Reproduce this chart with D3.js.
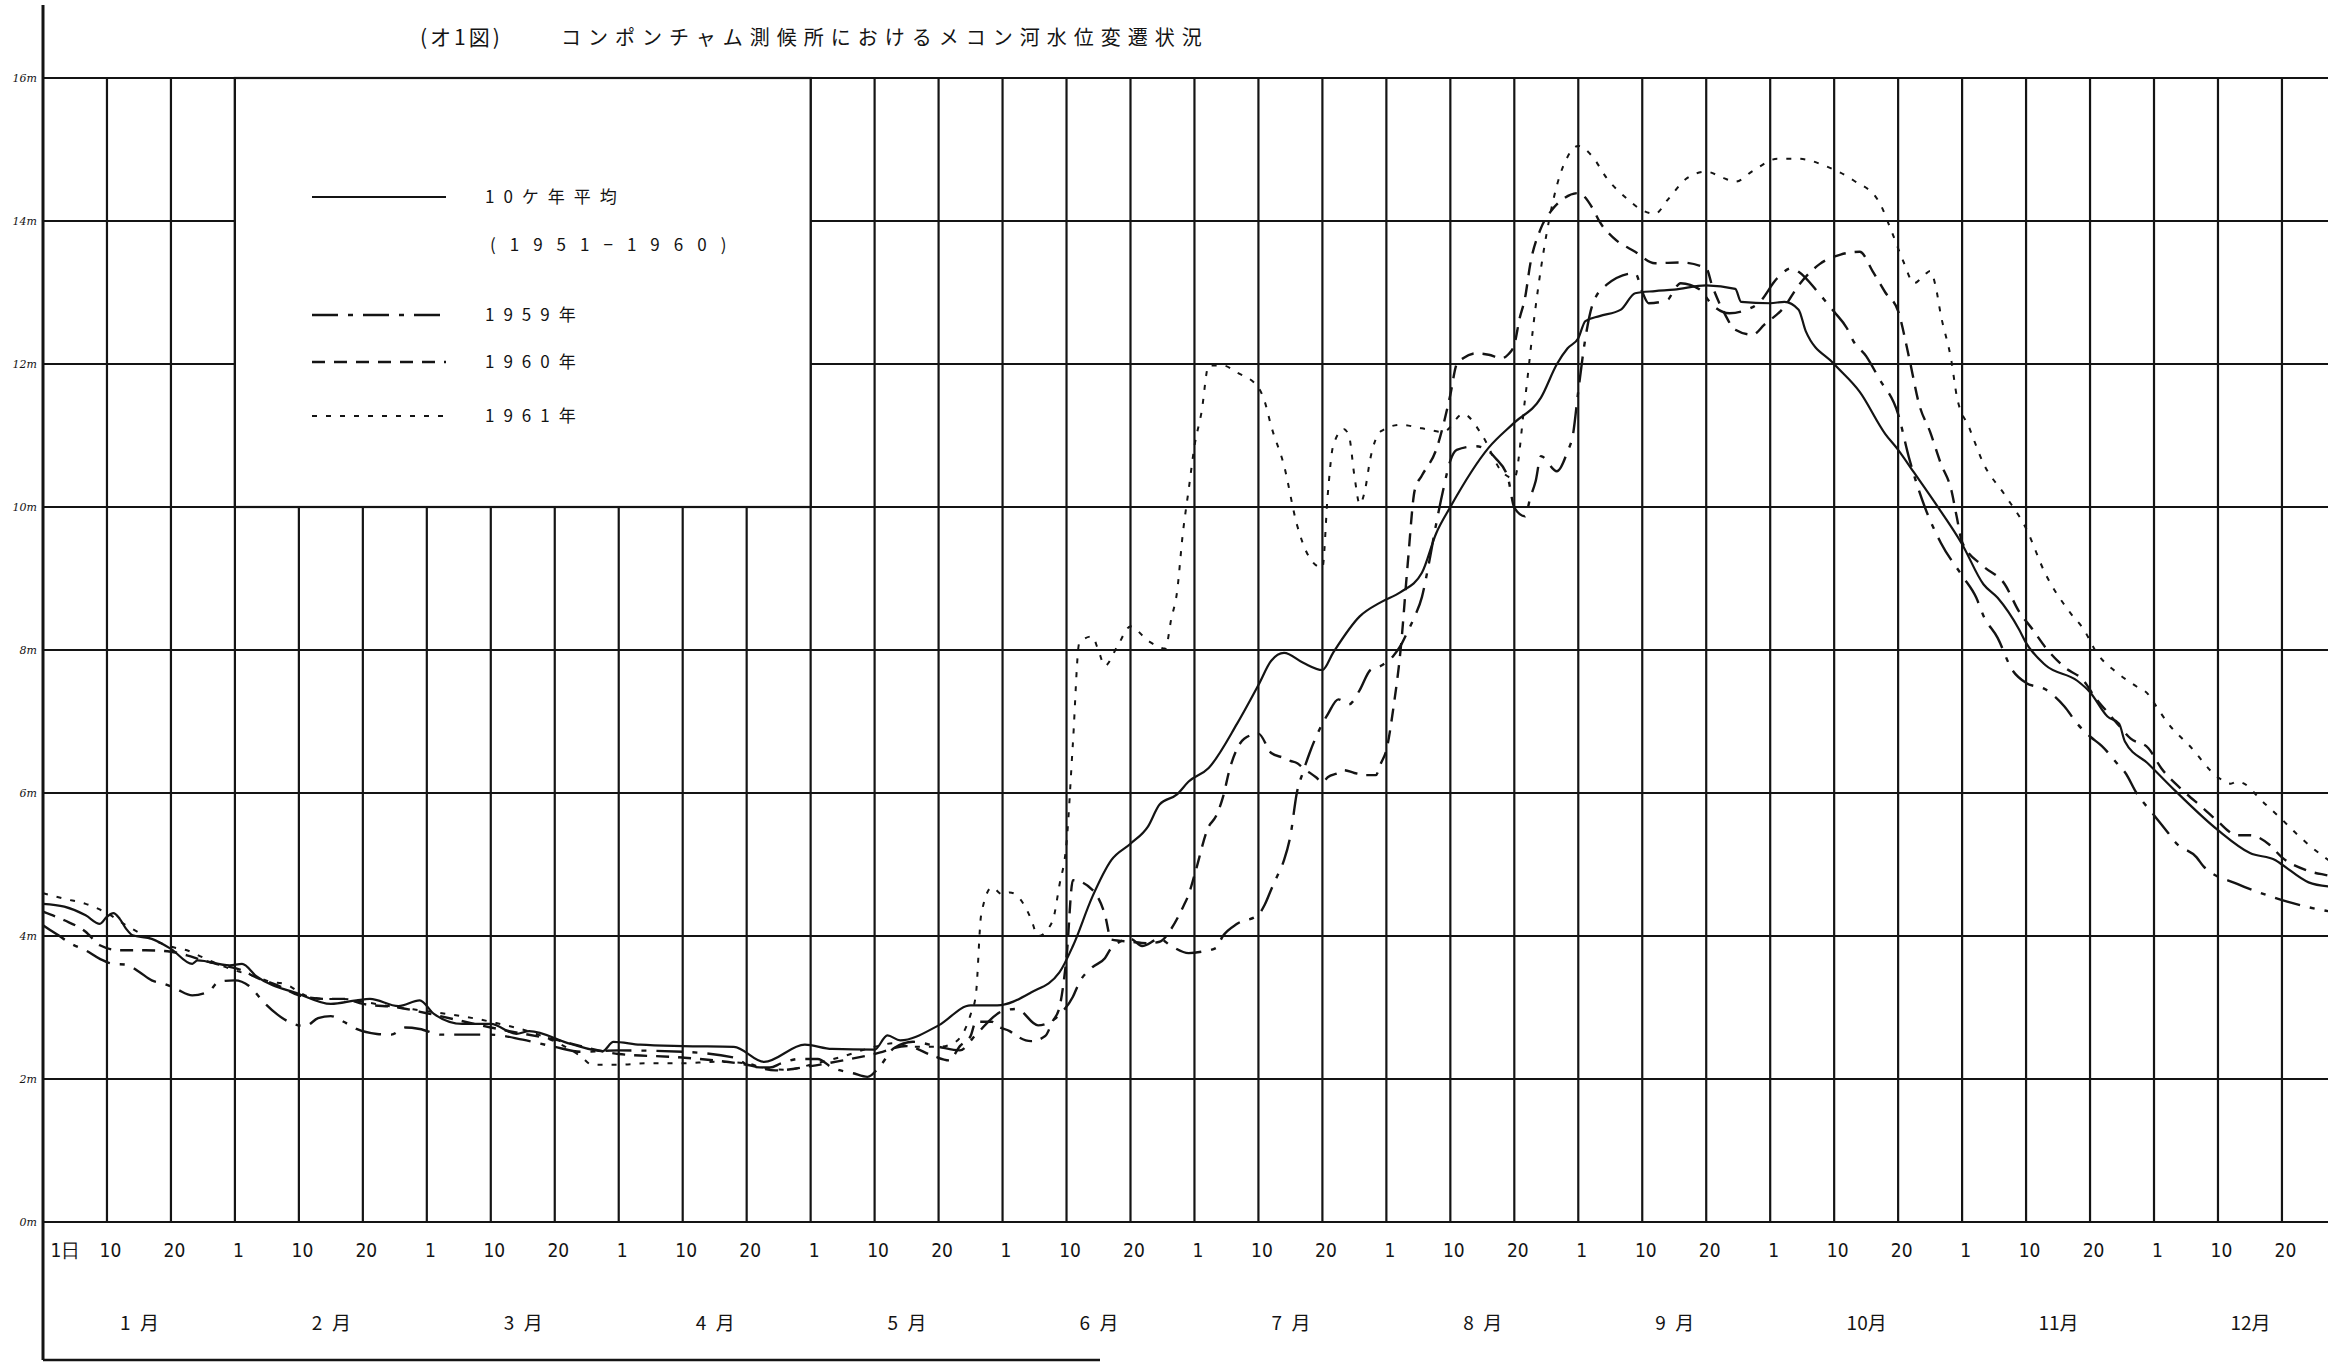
<!DOCTYPE html>
<html>
<head>
<meta charset="utf-8">
<script src="https://cdn.jsdelivr.net/npm/d3@7"></script>
<style>
  html, body { margin: 0; padding: 0; background: #fff; }
  svg { display: block; }
</style>
</head>
<body>
<svg id="chart" width="2328" height="1366"></svg>
<script>
// ---- Water level at Kompong Cham (m), read per date "month-day" ----
const avgDates = ["1-1","1-4","1-7","1-9","1-10","1-11","1-12","1-13","1-14","1-17","1-20","1-24","1-25","1-31","2-2","2-4","2-10","2-15","2-19","2-21","2-25","2-28","3-2","3-6","3-10","3-14","3-16","3-23","3-29","3-31","4-4","4-10","4-18","4-23","4-30","5-4","5-10","5-12","5-14","5-20","5-26","5-31","6-5","6-9","6-11","6-14","6-17","6-20","6-23","6-25","6-28","6-30","7-3","7-7","7-10","7-12","7-14","7-17","7-20","7-22","7-27","7-31","8-3","8-6","8-8","8-10","8-16","8-20","8-25","8-28","8-30","9-1","9-2","9-4","9-7","9-9","9-12","9-15","9-20","9-25","9-26","10-1","10-3","10-5","10-6","10-10","10-14","10-18","10-20","10-23","10-27","11-1","11-4","11-6","11-9","11-10","11-13","11-18","11-20","11-23","11-25","11-26","11-30","12-4","12-10","12-15","12-19","12-20","12-25","12-29"];
const avgLevels = [4.45,4.41,4.29,4.17,4.27,4.32,4.24,4.10,4.01,3.96,3.82,3.61,3.66,3.59,3.61,3.44,3.19,3.05,3.10,3.12,3.02,3.10,2.91,2.77,2.77,2.63,2.67,2.49,2.39,2.52,2.48,2.46,2.45,2.24,2.48,2.42,2.41,2.61,2.54,2.75,3.03,3.03,3.21,3.49,3.86,4.54,5.06,5.29,5.53,5.84,5.98,6.16,6.35,6.97,7.51,7.85,7.96,7.82,7.72,7.96,8.47,8.67,8.81,9.08,9.63,10.0,10.83,11.18,11.53,12.0,12.22,12.36,12.6,12.67,12.76,12.99,13.02,13.04,13.1,13.05,12.87,12.85,12.87,12.76,12.46,12.0,11.61,11.02,10.8,10.48,10.05,9.48,8.92,8.73,8.29,8.1,7.79,7.57,7.41,7.07,6.97,6.72,6.41,6.03,5.48,5.16,5.06,5.0,4.75,4.69];

const y1959Dates = ["1-1","1-3","1-5","1-7","1-9","1-11","1-13","1-15","1-17","1-19","1-21","1-24","1-27","1-29","2-1","2-3","2-5","2-7","2-9","2-11","2-13","2-15","2-17","2-19","2-22","2-24","2-26","2-28","3-3","3-6","3-10","3-15","3-20","3-25","4-1","4-10","4-18","4-21","4-24","4-26","4-29","5-2","5-4","5-7","5-9","5-11","5-13","5-16","5-20","5-24","5-27","6-1","6-3","6-6","6-9","6-11","6-12","6-14","6-16","6-17","6-20","6-22","6-25","6-27","6-30","7-2","7-4","7-5","7-7","7-10","7-11","7-12","7-13","7-14","7-15","7-16","7-17","7-18","7-20","7-21","7-23","7-25","7-27","7-29","7-31","8-2","8-3","8-4","8-5","8-6","8-7","8-8","8-9","8-10","8-11","8-14","8-16","8-17","8-19","8-20","8-22","8-23","8-24","8-25","8-28","8-30","8-31","9-1","9-2","9-3","9-5","9-9","9-10","9-11","9-14","9-15","9-16","9-19","9-21","9-24","9-27","9-29","10-2","10-4","10-5","10-8","10-10","10-12","10-13","10-15","10-17","10-20","10-22","10-25","10-28","11-1","11-3","11-4","11-6","11-8","11-10","11-13","11-16","11-18","11-20","11-22","11-25","11-26","11-28","12-1","12-3","12-4","12-7","12-8","12-13","12-18","12-21","12-27","12-31"];
const y1959Levels = [4.15,4.02,3.89,3.80,3.68,3.61,3.60,3.50,3.38,3.33,3.26,3.17,3.22,3.36,3.38,3.30,3.08,2.90,2.78,2.74,2.85,2.88,2.80,2.70,2.63,2.62,2.72,2.70,2.62,2.62,2.62,2.55,2.45,2.38,2.40,2.38,2.30,2.17,2.16,2.22,2.28,2.28,2.16,2.08,2.03,2.20,2.43,2.52,2.45,2.40,2.62,2.95,2.98,2.75,2.90,3.15,3.35,3.56,3.69,3.83,3.96,3.86,3.96,3.86,3.76,3.78,3.83,4.00,4.17,4.30,4.44,4.65,4.85,5.06,5.40,6.00,6.30,6.56,6.97,7.10,7.31,7.24,7.44,7.72,7.78,7.92,8.06,8.26,8.47,8.74,9.22,9.76,10.24,10.65,10.80,10.85,10.78,10.69,10.41,9.99,9.87,10.13,10.36,10.71,10.50,10.78,11.01,11.62,12.36,12.83,13.11,13.27,13.01,12.85,12.90,13.04,13.13,13.04,12.83,12.71,12.76,12.85,13.20,13.34,13.29,12.97,12.73,12.50,12.32,12.11,11.80,11.30,10.70,10.00,9.50,9.04,8.73,8.48,8.17,7.73,7.54,7.45,7.21,6.97,6.79,6.66,6.38,6.29,6.00,5.69,5.44,5.31,5.10,4.97,4.73,4.56,4.48,4.37,4.32];

const y1960Dates = ["1-1","1-4","1-7","1-9","1-12","1-16","1-20","1-23","1-26","1-29","2-2","2-4","2-7","2-10","2-14","2-17","2-20","2-25","3-1","3-10","3-20","4-1","4-10","4-20","4-25","5-1","5-5","5-10","5-15","5-19","5-22","5-24","5-26","5-27","5-30","5-31","6-2","6-3","6-5","6-7","6-8","6-9","6-10","6-11","6-14","6-16","6-17","6-20","6-23","6-25","6-27","6-29","6-30","7-1","7-3","7-4","7-5","7-6","7-7","7-8","7-10","7-12","7-14","7-15","7-16","7-17","7-19","7-20","7-21","7-23","7-24","7-26","7-28","7-30","7-31","8-1","8-2","8-3","8-4","8-5","8-6","8-8","8-10","8-11","8-12","8-14","8-16","8-18","8-19","8-20","8-21","8-22","8-23","8-25","8-27","8-29","9-1","9-3","9-4","9-6","9-9","9-12","9-16","9-20","9-21","9-23","9-25","9-28","9-30","10-3","10-5","10-8","10-11","10-14","10-16","10-18","10-20","10-22","10-24","10-26","10-28","10-30","10-31","11-1","11-4","11-7","11-9","11-11","11-13","11-16","11-19","11-21","11-23","11-25","11-27","11-30","12-2","12-5","12-8","12-10","12-13","12-15","12-18","12-20","12-25","12-29","12-31"];
const y1960Levels = [4.34,4.22,4.06,3.87,3.80,3.80,3.78,3.73,3.66,3.60,3.52,3.42,3.31,3.17,3.12,3.12,3.05,3.00,2.92,2.72,2.55,2.35,2.30,2.20,2.12,2.18,2.25,2.35,2.46,2.33,2.26,2.46,2.60,2.80,2.80,2.74,2.67,2.60,2.53,2.60,2.80,3.00,3.70,4.78,4.65,4.30,3.95,3.92,3.90,3.92,4.10,4.40,4.58,4.85,5.53,5.67,5.94,6.35,6.62,6.76,6.83,6.56,6.49,6.45,6.42,6.35,6.22,6.15,6.22,6.28,6.32,6.28,6.25,6.25,6.42,6.60,7.20,8.00,9.20,10.24,10.44,10.80,11.57,12.00,12.08,12.15,12.13,12.08,12.13,12.27,12.64,12.92,13.40,13.90,14.15,14.30,14.39,14.18,13.99,13.76,13.57,13.41,13.42,13.34,13.10,12.73,12.48,12.41,12.55,12.80,13.10,13.40,13.53,13.57,13.30,13.00,12.74,12.11,11.42,11.05,10.61,10.23,9.86,9.51,9.17,8.92,8.54,8.29,8.04,7.76,7.57,7.32,7.13,6.94,6.76,6.63,6.35,6.04,5.78,5.60,5.41,5.41,5.28,5.10,4.91,4.84,4.80];

const y1961Dates = ["1-1","1-4","1-7","1-10","1-13","1-16","1-20","1-23","1-26","1-29","2-1","2-4","2-6","2-8","2-11","2-14","2-17","2-20","2-25","3-1","3-10","3-18","3-22","3-25","3-27","4-1","4-5","4-10","4-15","4-20","4-23","4-27","5-1","5-5","5-10","5-13","5-16","5-20","5-23","5-26","5-27","5-28","5-30","6-1","6-2","6-4","6-5","6-6","6-8","6-9","6-10","6-11","6-12","6-14","6-15","6-16","6-18","6-20","6-23","6-26","6-27","6-28","6-29","6-30","7-1","7-2","7-3","7-5","7-7","7-10","7-11","7-12","7-14","7-16","7-18","7-20","7-21","7-22","7-24","7-25","7-26","7-27","7-28","7-29","7-31","8-3","8-6","8-9","8-12","8-15","8-18","8-20","8-22","8-24","8-26","8-28","8-30","9-1","9-3","9-5","9-8","9-10","9-12","9-14","9-17","9-20","9-23","9-25","9-28","10-2","10-5","10-9","10-13","10-17","10-19","10-21","10-23","10-25","10-26","10-27","10-28","10-30","10-31","11-2","11-4","11-7","11-10","11-13","11-17","11-19","11-21","11-25","11-28","11-30","12-1","12-3","12-6","12-10","12-12","12-13","12-15","12-16","12-20","12-23","12-28","12-31"];
const y1961Levels = [4.60,4.52,4.45,4.32,4.15,4.00,3.85,3.80,3.70,3.60,3.52,3.43,3.36,3.33,3.17,3.12,3.12,3.08,3.00,2.95,2.80,2.60,2.45,2.31,2.20,2.20,2.22,2.22,2.24,2.22,2.15,2.13,2.20,2.30,2.45,2.50,2.45,2.45,2.51,2.90,3.18,4.30,4.68,4.58,4.61,4.44,4.24,4.00,4.20,4.71,5.30,6.70,8.10,8.19,7.99,7.78,8.06,8.33,8.13,8.02,8.43,8.81,9.63,10.24,10.85,11.33,11.98,11.98,11.88,11.67,11.47,11.13,10.58,9.76,9.29,9.15,10.17,10.85,11.09,10.99,10.44,10.04,10.24,10.68,11.06,11.15,11.10,11.05,11.30,11.00,10.50,10.40,11.50,12.80,13.80,14.50,14.90,15.05,14.90,14.60,14.30,14.15,14.10,14.30,14.60,14.69,14.60,14.55,14.70,14.87,14.87,14.76,14.57,14.27,13.85,13.43,13.13,13.25,13.30,13.10,12.69,12.04,11.55,11.11,10.61,10.17,9.70,9.07,8.51,8.29,7.98,7.66,7.49,7.38,7.26,6.97,6.66,6.22,6.13,6.16,6.07,5.97,5.63,5.41,5.10,4.95];

// ---- Axis labels ----
const levelTicks = [0, 2, 4, 6, 8, 10, 12, 14, 16];
const dayLabels = ["1日", "10", "20"].concat(d3.range(11).flatMap(() => ["1", "10", "20"]));
const monthLabels = ["1\u2002月", "2\u2002月", "3\u2002月", "4\u2002月", "5\u2002月", "6\u2002月",
                     "7\u2002月", "8\u2002月", "9\u2002月", "10月", "11月", "12月"];
const legendLabels = ["10ケ年平均", "1959年", "1960年", "1961年"];

// ---- Layout ----
const svg = d3.select("#chart");
const W = 2328, H = 1366;
const left = 43, dekadW = 63.97;
const x = d3.scaleLinear().domain([0, 36]).range([left, left + 36 * dekadW]);
const y = d3.scaleLinear().domain([0, 16]).range([1222, 78]);

const monthLen = [31, 28, 31, 30, 31, 30, 31, 31, 30, 31, 30, 31];
// position of a date on the ten-day (dekad) axis: each month split into 1-10, 10-20, 20-end
function dekad(s) {
  const [m, d] = s.split("-").map(Number);
  const base = 3 * (m - 1);
  if (d < 10) return base + (d - 1) / 9;
  if (d < 20) return base + 1 + (d - 10) / 10;
  return base + 2 + (d - 20) / (monthLen[m - 1] - 19);
}

const ink = "#141414";
const grid = svg.append("g").attr("stroke", ink).attr("stroke-width", 2.2);

// horizontal grid lines (every 2 m)
grid.selectAll("line.h").data(levelTicks).join("line")
  .attr("x1", left).attr("x2", W)
  .attr("y1", d => y(d)).attr("y2", d => y(d));

// vertical grid lines at 1, 10, 20 of each month
grid.selectAll("line.v").data(d3.range(1, 36)).join("line")
  .attr("x1", d => x(d)).attr("x2", d => x(d))
  .attr("y1", y(16)).attr("y2", y(0));

// left frame and lower frame
svg.append("line").attr("x1", left).attr("x2", left).attr("y1", 5).attr("y2", 1360)
  .attr("stroke", ink).attr("stroke-width", 3);
svg.append("line").attr("x1", left).attr("x2", 1100).attr("y1", 1360).attr("y2", 1360)
  .attr("stroke", ink).attr("stroke-width", 2.5);

// legend panel, framed by the grid (Feb 1 to May 1, 16 m to 10 m)
const lg = svg.append("g");
lg.append("rect")
  .attr("x", x(3)).attr("y", y(16))
  .attr("width", x(12) - x(3)).attr("height", y(10) - y(16))
  .attr("fill", "#fff").attr("stroke", ink).attr("stroke-width", 2.2);

const series = [
  { dates: avgDates,   levels: avgLevels,   dash: null,          w: 2.2 },
  { dates: y1959Dates, levels: y1959Levels, dash: "26,10,5,10",  w: 2.4 },
  { dates: y1960Dates, levels: y1960Levels, dash: "13,9",        w: 2.4 },
  { dates: y1961Dates, levels: y1961Levels, dash: "5,9",         w: 2.0 }
];

// clip lines to the plotting area
svg.append("clipPath").attr("id", "plot")
  .append("rect").attr("x", left).attr("y", y(16)).attr("width", W - left).attr("height", y(0) - y(16));

const line = d3.line()
  .x(d => x(dekad(d.date)))
  .y(d => y(d.level))
  .curve(d3.curveMonotoneX);

svg.append("g").attr("clip-path", "url(#plot)")
  .selectAll("path").data(series).join("path")
  .attr("d", s => line(s.dates.map((t, i) => ({ date: t, level: s.levels[i] }))))
  .attr("fill", "none").attr("stroke", ink)
  .attr("stroke-width", s => s.w)
  .attr("stroke-dasharray", s => s.dash)
  .attr("stroke-linejoin", "round");

// legend entries
const legendY = [197, 315, 362, 416];
const legendFont = "'Noto Sans CJK JP', 'Noto Sans', sans-serif";
series.forEach((s, i) => {
  lg.append("line").attr("x1", 312).attr("x2", 446)
    .attr("y1", legendY[i]).attr("y2", legendY[i])
    .attr("stroke", ink).attr("stroke-width", s.w).attr("stroke-dasharray", s.dash);
  lg.append("text").attr("x", 485).attr("y", legendY[i] + 6)
    .attr("font-family", legendFont).attr("font-size", 17)
    .attr("fill", ink).attr("letter-spacing", 9)
    .text(legendLabels[i]);
});
lg.append("text").attr("x", 490).attr("y", 251)
  .attr("font-family", legendFont).attr("font-size", 17)
  .attr("fill", ink).attr("letter-spacing", 14)
  .text("(1951−1960)");

// title
svg.append("text").attr("x", 420).attr("y", 45)
  .attr("font-family", legendFont).attr("font-size", 21).attr("fill", ink)
  .attr("letter-spacing", 3)
  .text("(オ1図)");
svg.append("text").attr("x", 561).attr("y", 45)
  .attr("font-family", legendFont).attr("font-size", 20).attr("fill", ink)
  .attr("letter-spacing", 7)
  .text("コンポンチャム測候所におけるメコン河水位変遷状況");

// day axis along the bottom
const axisFont = "'DejaVu Sans Condensed', 'Liberation Sans Narrow', 'DejaVu Sans', sans-serif";
const dayAxis = d3.axisBottom(x)
  .tickValues(d3.range(0, 36))
  .tickSize(0).tickPadding(22)
  .tickFormat(i => dayLabels[i]);
const gDay = svg.append("g").attr("transform", `translate(3,${y(0)})`).call(dayAxis);
gDay.select(".domain").remove();
gDay.selectAll("text").attr("font-family", axisFont).attr("font-size", 19).attr("fill", ink)
  .filter(i => i === 0).attr("text-anchor", "start").attr("dx", 4);

// month labels centred in each month
const monthAxis = d3.axisBottom(x)
  .tickValues(d3.range(12).map(k => 3 * k + 1.5))
  .tickSize(0).tickPadding(95)
  .tickFormat((v, k) => monthLabels[k]);
const gMonth = svg.append("g").attr("transform", `translate(0,${y(0)})`).call(monthAxis);
gMonth.select(".domain").remove();
gMonth.selectAll("text").attr("font-family", legendFont).attr("font-size", 19).attr("fill", ink);

// water level labels on the left
const levelAxis = d3.axisLeft(y).tickValues(levelTicks).tickSize(0).tickPadding(6)
  .tickFormat(d => d + "m");
const gLev = svg.append("g").attr("transform", `translate(${left},0)`).call(levelAxis);
gLev.select(".domain").remove();
gLev.selectAll("text").attr("font-family", "'DejaVu Serif', serif").attr("font-style", "italic")
  .attr("font-size", 11).attr("fill", ink);
</script>
</body>
</html>
